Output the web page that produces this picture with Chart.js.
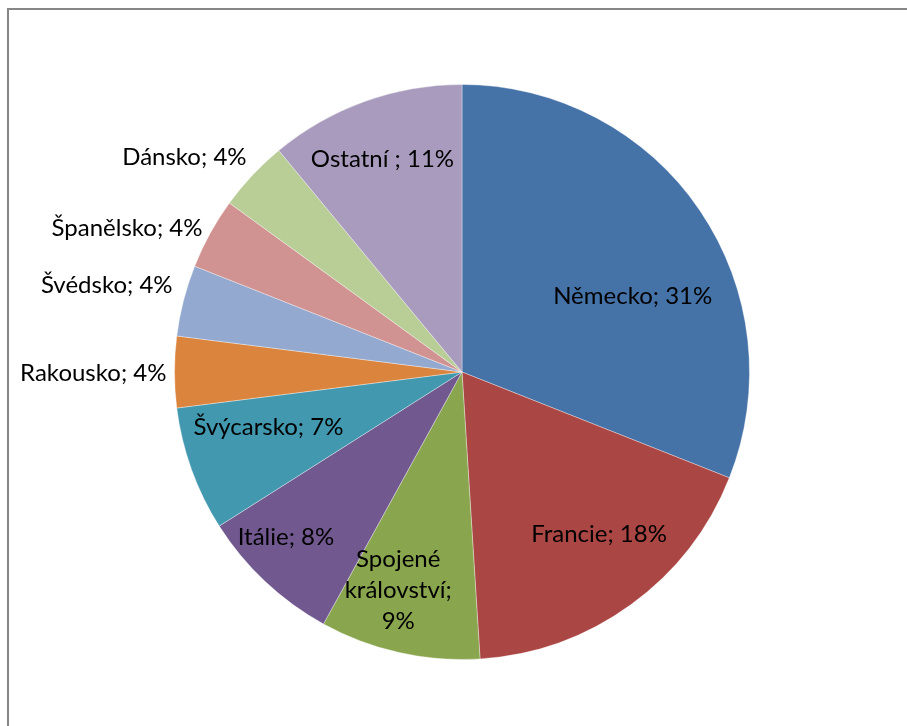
<!DOCTYPE html><html lang="cs"><head><meta charset="UTF-8">
<title>Podíl zemí</title>
<script src="https://cdn.jsdelivr.net/npm/chart.js"></script>
<style>
    body {
        margin: 0;
        background: #ffffff;
        overflow: hidden;
    }
    .frame {
        position: absolute;
        left: 7px;
        top: 8px;
        width: 1000px;
        height: 800px;
        border: 2px solid #878787;
    }
    .wrap {
        position: absolute;
        left: 0;
        top: 0;
        width: 907px;
        height: 726px;
    }
</style>
</head>
<body>
    <div class="frame"></div>
    <div class="wrap"><canvas id="pieCanvas" width="907" height="726"></canvas></div>
    <script>
        // země a jejich podíl v %
        const zeme = ["Německo", "Francie", "Spojené království", "Itálie", "Švýcarsko",
                      "Rakousko", "Švédsko", "Španělsko", "Dánsko", "Ostatní "];
        const podil = [31, 18, 9, 8, 7, 4, 4, 4, 4, 11];
        const barvy = ["#4572a7", "#aa4643", "#89a54e", "#71588f", "#4198af",
                       "#db843d", "#93a9cf", "#d19392", "#b9cd96", "#a99bbd"];

        // umístění popisků: násobek poloměru, posun úhlu od středu výseče, zarovnání, řádky
        const popisky = [
            {r: 0.65, da: 10.2, align: "center"},
            {r: 0.74, da: -4.1, align: "center"},
            {r: 0.79, da: 3.7, align: "center", lines: ["Spojené", "království;", "9%"]},
            {r: 0.84, da: 3.6, align: "center"},
            {r: 0.70, da: 3.9, align: "center"},
            {r: 1.028, da: -0.2, align: "right"},
            {r: 1.051, da: 2.3, align: "right"},
            {r: 1.032, da: 0.2, align: "right"},
            {r: 1.058, da: 1.7, align: "right"},
            {r: 0.79, da: -0.7, align: "center"}
        ];

        const labelPlugin = {
            id: "sliceLabels",
            afterDatasetsDraw(chart) {
                const ctx = chart.ctx;
                const meta = chart.getDatasetMeta(0);
                ctx.save();
                ctx.font = "24px Lato, 'Open Sans', sans-serif";
                ctx.fillStyle = "#000000";
                ctx.textBaseline = "middle";
                meta.data.forEach((arc, i) => {
                    const p = popisky[i];
                    const mid = (arc.startAngle + arc.endAngle) / 2 + p.da * Math.PI / 180;
                    const x = arc.x + Math.cos(mid) * arc.outerRadius * p.r;
                    const y = arc.y + Math.sin(mid) * arc.outerRadius * p.r;
                    const lines = p.lines || [zeme[i] + "; " + podil[i] + "%"];
                    const lh = 31;
                    ctx.textAlign = p.align;
                    lines.forEach((t, k) => {
                        ctx.fillText(t, x, y + (k - (lines.length - 1) / 2) * lh);
                    });
                });
                ctx.restore();
            }
        };

        new Chart(document.getElementById("pieCanvas"), {
            type: "pie",
            data: {
                labels: zeme,
                datasets: [{
                    data: podil,
                    backgroundColor: barvy,
                    borderColor: "rgba(255,255,255,0.35)",
                    borderWidth: 1
                }]
            },
            options: {
                responsive: false,
                animation: false,
                layout: {padding: {left: 174, right: 157, top: 84, bottom: 66}},
                plugins: {
                    legend: {display: false},
                    tooltip: {enabled: false}
                }
            },
            plugins: [labelPlugin]
        });
    </script>
</body>
</html>
